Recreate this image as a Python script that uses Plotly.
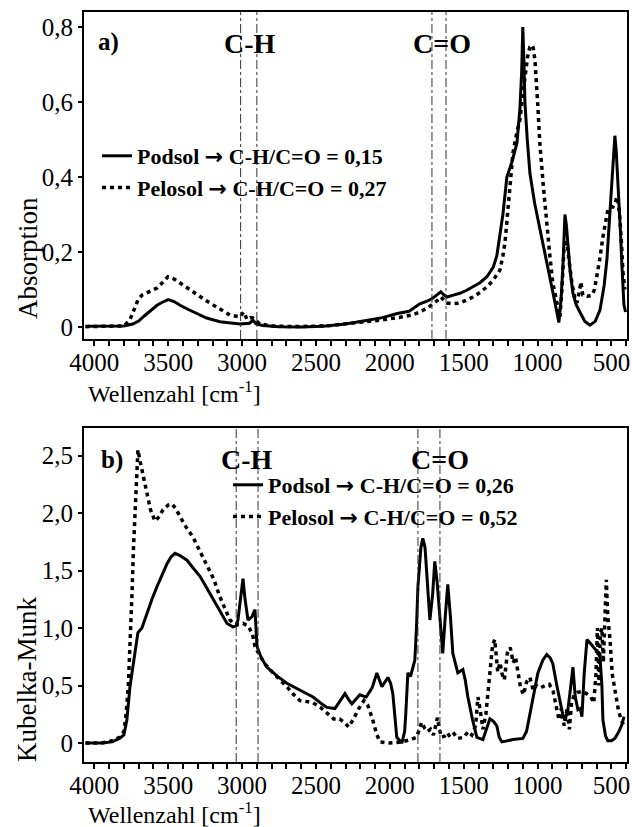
import plotly.graph_objects as go

# ---------------- data ----------------
# a) absorption spectra (wavenumber in cm^-1, absorption)
podsol_a_wn = [4060, 3900, 3800, 3740, 3700, 3660, 3620, 3576, 3540, 3500, 3460, 3420, 3360, 3306,
               3240, 3150, 3080, 3015, 2950, 2926, 2905, 2860, 2750, 2600, 2450, 2300, 2180, 2050,
               1950, 1870, 1797, 1740, 1709, 1680, 1655, 1635, 1614, 1570, 1526, 1480, 1438, 1390,
               1343, 1300, 1276, 1255, 1235, 1208, 1174, 1140, 1120, 1108, 1100, 1092, 1086, 1070,
               1052, 1020, 985, 950, 917, 885, 856, 842, 829, 815, 805, 795, 780, 761, 740, 714,
               680, 646, 610, 578, 550, 531, 515, 498, 485, 477, 468, 457, 440, 430, 416, 405]
podsol_a_abs = [0.002, 0.002, 0.003, 0.008, 0.016, 0.030, 0.044, 0.058, 0.066, 0.073, 0.068, 0.058,
                0.046, 0.036, 0.024, 0.014, 0.010, 0.008, 0.010, 0.018, 0.008, 0.004, 0.001, 0.000,
                0.002, 0.008, 0.016, 0.025, 0.036, 0.042, 0.062, 0.070, 0.077, 0.085, 0.094, 0.086,
                0.080, 0.085, 0.090, 0.098, 0.107, 0.118, 0.134, 0.160, 0.190, 0.240, 0.300, 0.400,
                0.440, 0.490, 0.580, 0.680, 0.800, 0.700, 0.600, 0.500, 0.410, 0.330, 0.265, 0.200,
                0.135, 0.070, 0.012, 0.070, 0.160, 0.300, 0.270, 0.220, 0.150, 0.090, 0.060, 0.040,
                0.015, 0.005, 0.015, 0.045, 0.110, 0.180, 0.280, 0.400, 0.480, 0.510, 0.470, 0.400,
                0.260, 0.170, 0.060, 0.040]

pelosol_a_wn = [4060, 3900, 3800, 3760, 3730, 3705, 3678, 3620, 3576, 3540, 3502, 3460, 3420, 3360,
                3306, 3250, 3197, 3140, 3082, 3015, 2988, 2967, 2945, 2926, 2880, 2800, 2650, 2520,
                2400, 2290, 2150, 2067, 1932, 1850, 1797, 1740, 1709, 1680, 1655, 1635, 1614, 1570,
                1526, 1480, 1438, 1390, 1343, 1300, 1255, 1235, 1221, 1201, 1185, 1167, 1140, 1120,
                1100, 1086, 1068, 1052, 1040, 1030, 1018, 1000, 985, 960, 938, 917, 897, 870, 849,
                835, 822, 812, 802, 785, 768, 750, 734, 720, 707, 700, 694, 660, 633, 615, 599, 580,
                558, 540, 525, 505, 491, 475, 464, 454, 444, 432, 423, 410]
pelosol_a_abs = [0.001, 0.001, 0.003, 0.018, 0.050, 0.072, 0.085, 0.096, 0.104, 0.118, 0.134, 0.128,
                 0.117, 0.100, 0.085, 0.072, 0.059, 0.045, 0.032, 0.027, 0.040, 0.020, 0.025, 0.024,
                 0.008, 0.003, 0.001, 0.002, 0.004, 0.009, 0.014, 0.018, 0.026, 0.032, 0.040, 0.052,
                 0.062, 0.070, 0.080, 0.072, 0.064, 0.062, 0.064, 0.072, 0.080, 0.092, 0.107, 0.125,
                 0.152, 0.190, 0.224, 0.312, 0.390, 0.464, 0.520, 0.552, 0.620, 0.667, 0.720, 0.747,
                 0.752, 0.745, 0.712, 0.600, 0.490, 0.370, 0.267, 0.190, 0.117, 0.060, 0.027, 0.100,
                 0.205, 0.225, 0.224, 0.170, 0.117, 0.080, 0.064, 0.090, 0.120, 0.100, 0.085, 0.082,
                 0.085, 0.100, 0.133, 0.180, 0.240, 0.280, 0.312, 0.320, 0.320, 0.330, 0.347, 0.330,
                 0.293, 0.220, 0.150, 0.100]

# b) Kubelka-Munk spectra
podsol_b_wn = [4060, 3950, 3880, 3830, 3800, 3780, 3759, 3740, 3725, 3705, 3678, 3644, 3610, 3576,
               3540, 3508, 3480, 3454, 3420, 3373, 3330, 3285, 3240, 3197, 3150, 3102, 3062, 3040,
               3028, 3010, 2994, 2980, 2960, 2933, 2913, 2899, 2870, 2832, 2760, 2697, 2610, 2520,
               2460, 2426, 2372, 2340, 2304, 2280, 2257, 2230, 2203, 2160, 2120, 2088, 2070, 2054,
               2013, 1995, 1980, 1965, 1953, 1919, 1900, 1892, 1878, 1860, 1845, 1831, 1820, 1810,
               1790, 1777, 1762, 1750, 1729, 1710, 1696, 1680, 1662, 1642, 1625, 1608, 1590, 1574,
               1540, 1506, 1490, 1472, 1440, 1411, 1370, 1345, 1323, 1300, 1276, 1260, 1242, 1167,
               1100, 1075, 1052, 1025, 998, 965, 938, 915, 897, 870, 849, 830, 815, 795, 775, 761,
               745, 727, 712, 700, 685, 666, 645, 626, 600, 578, 565, 558, 540, 525, 500, 477, 450,
               430, 415]
podsol_b_km = [0.00, 0.00, 0.01, 0.04, 0.07, 0.20, 0.49, 0.65, 0.78, 0.96, 1.00, 1.13, 1.25, 1.36,
               1.47, 1.56, 1.62, 1.65, 1.63, 1.59, 1.52, 1.45, 1.35, 1.25, 1.14, 1.04, 1.01, 1.02,
               1.07, 1.25, 1.43, 1.25, 1.07, 1.10, 1.16, 0.84, 0.74, 0.66, 0.58, 0.52, 0.46, 0.40,
               0.34, 0.31, 0.30, 0.36, 0.43, 0.38, 0.34, 0.38, 0.42, 0.40, 0.48, 0.61, 0.55, 0.49,
               0.57, 0.52, 0.43, 0.20, 0.05, 0.00, 0.10, 0.26, 0.61, 0.58, 0.66, 0.72, 1.00, 1.36,
               1.70, 1.78, 1.70, 1.50, 1.07, 1.30, 1.58, 1.40, 1.07, 0.78, 1.10, 1.38, 1.10, 0.78,
               0.61, 0.64, 0.55, 0.40, 0.20, 0.05, 0.03, 0.12, 0.21, 0.19, 0.15, 0.05, 0.01, 0.03,
               0.04, 0.10, 0.25, 0.45, 0.61, 0.72, 0.77, 0.74, 0.69, 0.50, 0.35, 0.25, 0.20, 0.29,
               0.50, 0.66, 0.40, 0.29, 0.30, 0.23, 0.60, 0.90, 0.87, 0.84, 0.80, 0.75, 0.50, 0.20,
               0.06, 0.02, 0.02, 0.04, 0.10, 0.16, 0.23]

pelosol_b_wn = [4060, 3950, 3880, 3830, 3800, 3785, 3770, 3755, 3745, 3735, 3725, 3715, 3705, 3690,
                3678, 3660, 3644, 3620, 3590, 3560, 3535, 3500, 3475, 3450, 3420, 3380, 3332, 3290,
                3238, 3190, 3150, 3110, 3082, 3050, 3020, 2994, 2960, 2930, 2913, 2880, 2840, 2791,
                2740, 2697, 2650, 2609, 2560, 2520, 2470, 2420, 2380, 2340, 2300, 2280, 2250, 2210,
                2175, 2150, 2120, 2090, 2067, 2000, 1920, 1860, 1820, 1800, 1785, 1765, 1745, 1725,
                1705, 1690, 1678, 1665, 1650, 1630, 1612, 1590, 1565, 1540, 1500, 1470, 1445, 1420,
                1404, 1390, 1370, 1350, 1330, 1305, 1290, 1270, 1255, 1240, 1225, 1205, 1185, 1165,
                1150, 1135, 1115, 1095, 1075, 1052, 1030, 1010, 980, 950, 920, 895, 875, 855, 840,
                820, 800, 785, 770, 752, 730, 700, 670, 640, 620, 605, 595, 585, 575, 565, 555, 545,
                535, 525, 510, 495, 475, 455, 435, 415]
pelosol_b_km = [0.00, 0.00, 0.02, 0.05, 0.10, 0.25, 0.50, 0.90, 1.30, 1.70, 2.00, 2.30, 2.55, 2.45,
                2.38, 2.25, 2.15, 2.03, 1.93, 1.97, 2.03, 2.07, 2.08, 2.04, 1.97, 1.88, 1.79, 1.68,
                1.56, 1.42, 1.27, 1.15, 1.07, 1.03, 1.03, 1.04, 1.02, 0.95, 0.84, 0.76, 0.68, 0.61,
                0.55, 0.49, 0.42, 0.37, 0.36, 0.35, 0.31, 0.25, 0.21, 0.21, 0.17, 0.14, 0.20, 0.30,
                0.37, 0.33, 0.22, 0.08, 0.01, 0.00, 0.01, 0.03, 0.05, 0.12, 0.18, 0.13, 0.10, 0.12,
                0.07, 0.15, 0.22, 0.12, 0.05, 0.06, 0.09, 0.05, 0.08, 0.04, 0.05, 0.10, 0.07, 0.15,
                0.40, 0.30, 0.12, 0.25, 0.55, 0.85, 0.90, 0.62, 0.70, 0.60, 0.55, 0.78, 0.83, 0.70,
                0.75, 0.62, 0.48, 0.42, 0.53, 0.57, 0.46, 0.50, 0.48, 0.50, 0.51, 0.45, 0.32, 0.20,
                0.30, 0.15, 0.30, 0.12, 0.35, 0.42, 0.44, 0.45, 0.43, 0.40, 0.35, 0.60, 1.00, 0.50,
                0.95, 1.00, 0.70, 1.20, 1.42, 1.10, 0.90, 0.60, 0.45, 0.30, 0.20, 0.15]

# axis ticks
wn_ticks = [4000, 3500, 3000, 2500, 2000, 1500, 1000, 500]
wn_ticktext = ["4000", "3500", "3000", "2500", "2000", "1500", "1000", "500"]
abs_ticks = [0, 0.2, 0.4, 0.6, 0.8]
abs_ticktext = ["0", "0,2", "0,4", "0,6", "0,8"]
km_ticks = [0, 0.5, 1.0, 1.5, 2.0, 2.5]
km_ticktext = ["0", "0,5", "1,0", "1,5", "2,0", "2,5"]

# marked band positions (cm^-1)
ch_band_a = [3010, 2900]
co_band_a = [1715, 1620]
ch_band_b = [3040, 2892]
co_band_b = [1810, 1661]

ARROW = '<span style="font-family:DejaVu Sans">\u2192</span>'
legend_a = [f"Podsol {ARROW} C-H/C=O = 0,15", f"Pelosol {ARROW} C-H/C=O = 0,27"]
legend_b = [f"Podsol {ARROW} C-H/C=O = 0,26", f"Pelosol {ARROW} C-H/C=O = 0,52"]

# ---------------- figure ----------------
W, H = 632, 827
SERIF = "Liberation Serif"


def px(x):
    return x / W


def py(y):
    return 1 - y / H


fig = go.Figure()

solid = dict(color="black", width=3)
dotted = dict(color="black", width=3.5, dash="4px,4px")

fig.add_trace(go.Scatter(x=podsol_a_wn, y=podsol_a_abs, mode="lines", line=solid,
                         name=legend_a[0], legend="legend", legendgroup="a1",
                         xaxis="x", yaxis="y"))
fig.add_trace(go.Scatter(x=pelosol_a_wn, y=pelosol_a_abs, mode="lines", line=dotted,
                         name=legend_a[1], legend="legend", legendgroup="a2",
                         xaxis="x", yaxis="y"))
fig.add_trace(go.Scatter(x=podsol_b_wn, y=podsol_b_km, mode="lines", line=solid,
                         name=legend_b[0], legend="legend2", legendgroup="b1",
                         xaxis="x2", yaxis="y2"))
fig.add_trace(go.Scatter(x=pelosol_b_wn, y=pelosol_b_km, mode="lines", line=dotted,
                         name=legend_b[1], legend="legend2", legendgroup="b2",
                         xaxis="x2", yaxis="y2"))

x_dom = [px(84), px(627)]
wn_range = [4070, 395]
tickfont = dict(family=SERIF, size=25, color="black")

xaxis_common = dict(domain=x_dom, range=wn_range, tickmode="array", tickvals=wn_ticks,
                    ticktext=wn_ticktext, ticks="outside", ticklen=5, tickwidth=2,
                    tickcolor="black", showline=True, linecolor="black", linewidth=2,
                    mirror=True, showgrid=False, zeroline=False, tickfont=tickfont,
                    automargin=False, ticklabelstandoff=-5,
                    minor=dict(dtick=100, tick0=0, ticks="outside", ticklen=5,
                               tickwidth=2, tickcolor="black", showgrid=False))
yaxis_common = dict(ticks="outside", ticklen=4, tickwidth=2, tickcolor="black",
                    showline=True, linecolor="black", linewidth=2, mirror=True,
                    showgrid=False, zeroline=False, tickfont=tickfont, tickmode="array",
                    automargin=False, ticklabelstandoff=0)

legend_font = dict(family=SERIF, size=22, color="black", weight="bold")

fig.update_layout(
    width=W, height=H, autosize=False,
    margin=dict(l=0, r=0, t=0, b=0, autoexpand=False),
    paper_bgcolor="white", plot_bgcolor="white",
    font=dict(family=SERIF, color="black"),
    xaxis=dict(**xaxis_common, anchor="y"),
    yaxis=dict(**yaxis_common, domain=[py(339), py(12)], range=[-0.032, 0.84],
               tickvals=abs_ticks, ticktext=abs_ticktext, anchor="x"),
    xaxis2=dict(**xaxis_common, anchor="y2"),
    yaxis2=dict(**yaxis_common, domain=[py(762), py(428)], range=[-0.165, 2.74],
                tickvals=km_ticks, ticktext=km_ticktext, anchor="x2"),
    legend=dict(x=px(97), y=py(135), xanchor="left", yanchor="top",
                bgcolor="rgba(0,0,0,0)", tracegroupgap=0, itemwidth=30, font=legend_font),
    legend2=dict(x=px(228), y=py(464), xanchor="left", yanchor="top",
                 bgcolor="rgba(0,0,0,0)", tracegroupgap=0, itemwidth=30, font=legend_font),
    showlegend=True,
)

# dash-dot band markers
shapes = []
for xs, xref, yref in [(ch_band_a + co_band_a, "x", "y domain"),
                       (ch_band_b + co_band_b, "x2", "y2 domain")]:
    for xv in xs:
        shapes.append(dict(type="line", xref=xref, yref=yref, x0=xv, x1=xv, y0=0, y1=1,
                           line=dict(color="#333333", width=1, dash="dashdot")))
fig.update_layout(shapes=shapes)

label_font = dict(family=SERIF, size=28, color="black", weight="bold")
panel_font = dict(family=SERIF, size=25, color="black", weight="bold")
title_font = dict(family=SERIF, size=27, color="black")
axis_title_font = dict(family=SERIF, size=24, color="black")
annots = [
    dict(text="a)", x=px(108), y=py(42), font=panel_font),
    dict(text="C-H", x=px(250), y=py(43), font=label_font),
    dict(text="C=O", x=px(442), y=py(43), font=label_font),
    dict(text="b)", x=px(112), y=py(460), font=panel_font),
    dict(text="C-H", x=px(247), y=py(460), font=label_font),
    dict(text="C=O", x=px(440), y=py(460), font=label_font),
    dict(text="Wellenzahl [cm<sup>-1</sup>]", x=px(86), y=py(392), xanchor="left",
         font=axis_title_font),
    dict(text="Wellenzahl [cm<sup>-1</sup>]", x=px(86), y=py(813), xanchor="left",
         font=axis_title_font),
    dict(text="Absorption", x=px(28), y=py(258), textangle=-90, font=title_font),
    dict(text="Kubelka-Munk", x=px(27), y=py(680), textangle=-90, font=title_font),
]
for a in annots:
    a.setdefault("xanchor", "center")
    a.update(xref="paper", yref="paper", yanchor="middle", showarrow=False)
fig.update_layout(annotations=annots)

fig.write_html("out.html")
